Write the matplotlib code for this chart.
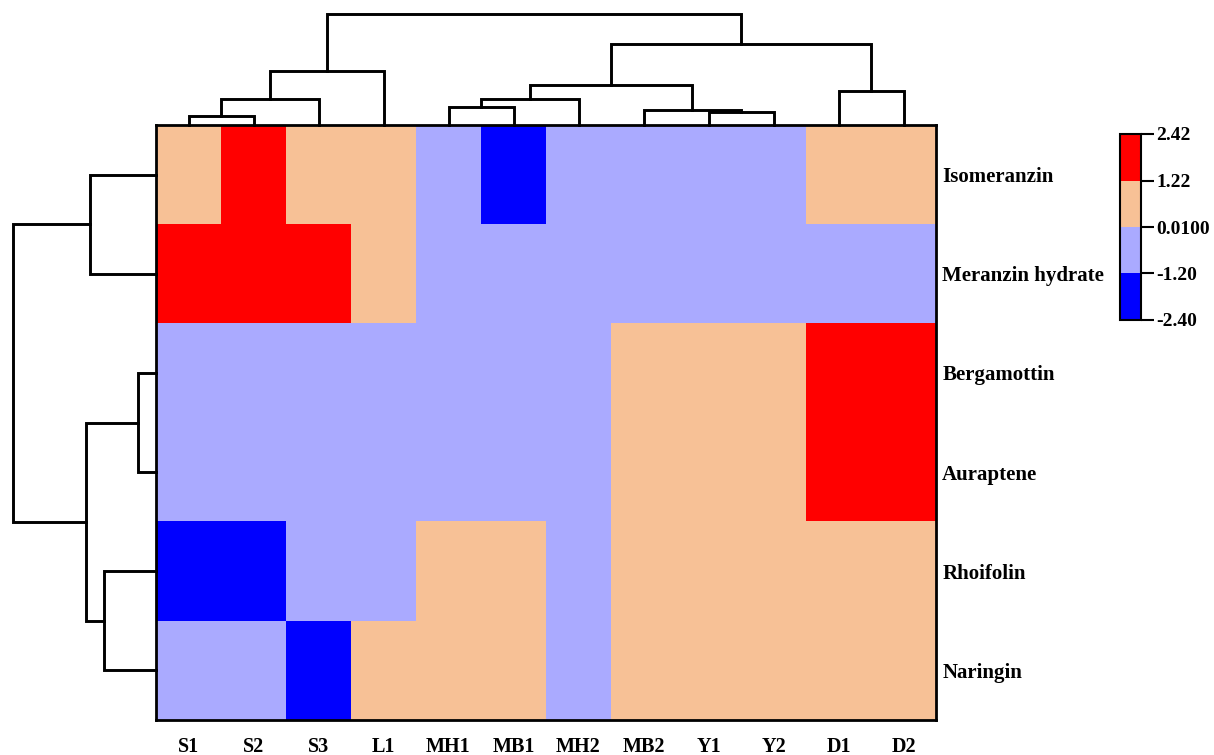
import numpy as np
import matplotlib.pyplot as plt
from matplotlib.colors import ListedColormap, BoundaryNorm

plt.rcParams['font.family'] = ['Liberation Serif', 'DejaVu Serif']
plt.rcParams['font.weight'] = 'bold'

samples = ['S1', 'S2', 'S3', 'L1', 'MH1', 'MB1', 'MH2', 'MB2', 'Y1', 'Y2', 'D1', 'D2']
compounds = ['Isomeranzin', 'Meranzin hydrate', 'Bergamottin', 'Auraptene',
             'Rhoifolin', 'Naringin']

# scaled content of each compound across the samples (already in clustered order)
isomeranzin = [0.85, 2.10, 0.62, 0.55, -0.48, -1.62, -0.52, -0.45, -0.60, -0.58, 0.35, 0.40]
meranzin_hydrate = [1.65, 1.80, 1.45, 0.70, -0.55, -0.62, -0.70, -0.58, -0.66, -0.64, -0.72, -0.68]
bergamottin = [-0.70, -0.72, -0.68, -0.66, -0.60, -0.62, -0.58, 0.45, 0.52, 0.48, 2.05, 1.95]
auraptene = [-0.74, -0.70, -0.71, -0.65, -0.63, -0.60, -0.61, 0.50, 0.47, 0.55, 1.98, 2.10]
rhoifolin = [-1.85, -1.70, -0.90, -0.35, 0.30, 0.42, -0.25, 0.80, 0.75, 0.70, 0.55, 0.62]
naringin = [-0.85, -0.95, -1.90, 0.40, 0.55, 0.50, -0.30, 0.85, 0.90, 0.88, 0.65, 0.70]

# linkage: (left, right, distance); new clusters get ids n, n+1, ...
col_links = [(0, 1, 9), (12, 2, 26), (13, 3, 54), (4, 5, 18), (15, 6, 26),
             (8, 9, 13), (7, 17, 15), (16, 18, 40), (10, 11, 34), (19, 20, 81),
             (14, 21, 111)]
row_links = [(0, 1, 66), (2, 3, 18), (4, 5, 52), (7, 8, 70), (6, 9, 143)]

levels = [-2.40, -1.20, 0.01, 1.22, 2.42]
level_labels = ['-2.40', '-1.20', '0.0100', '1.22', '2.42']
colors = ['#0000FF', '#AAAAFF', '#F7C196', '#FF0000']

data = np.array([isomeranzin, meranzin_hydrate, bergamottin, auraptene, rhoifolin, naringin])

W, H = 1214, 755
fig = plt.figure(figsize=(W / 100, H / 100), dpi=100)


def box(x0, y0, x1, y1):
    return [x0 / W, 1 - y1 / H, (x1 - x0) / W, (y1 - y0) / H]


def draw_tree(ax, links, n, top):
    pos = list(np.arange(n, dtype=float))
    hgt = [0.0] * n
    for a, b, h in links:
        p = [pos[a], pos[a], pos[b], pos[b]]
        q = [hgt[a], h, h, hgt[b]]
        if top:
            ax.plot(p, q, color='black', lw=2.1, clip_on=False, solid_joinstyle='miter')
        else:
            ax.plot(q, p, color='black', lw=2.1, clip_on=False, solid_joinstyle='miter')
        pos.append((pos[a] + pos[b]) / 2)
        hgt.append(h)


cmap = ListedColormap(colors)
norm = BoundaryNorm(levels, cmap.N)

ax = fig.add_axes(box(156, 125, 936, 720))
im = ax.imshow(data, cmap=cmap, norm=norm, aspect='auto', interpolation='nearest')
ax.set_xticks(range(len(samples)))
ax.set_xticklabels(samples, fontsize=14.5)
ax.set_yticks(range(len(compounds)))
ax.set_yticklabels(compounds, fontsize=15)
ax.yaxis.tick_right()
ax.tick_params(axis='x', length=0, pad=12)
ax.tick_params(axis='y', length=0, pad=4.5)
for s in ax.spines.values():
    s.set_linewidth(2.0)

# sample dendrogram on top
axt = fig.add_axes(box(156, 10, 936, 125))
draw_tree(axt, col_links, len(samples), True)
axt.set_xlim(-0.5, len(samples) - 0.5)
axt.set_ylim(0, 115)
axt.axis('off')

# compound dendrogram on the left
axl = fig.add_axes(box(0, 125, 156, 720))
draw_tree(axl, row_links, len(compounds), False)
axl.set_ylim(len(compounds) - 0.5, -0.5)
axl.set_xlim(156, 0)
axl.axis('off')

cax = fig.add_axes(box(1120, 134, 1141, 320))
cb = fig.colorbar(im, cax=cax, ticks=levels)
cb.set_ticklabels(level_labels)
cb.outline.set_linewidth(1.5)
cax.tick_params(length=9, width=1.5, labelsize=14, pad=2)

fig.savefig('out.png', dpi=100)
